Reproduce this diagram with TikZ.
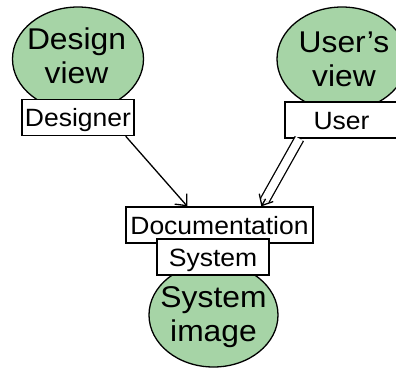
\documentclass[tikz,border=0pt]{standalone}
\usepackage{fontspec}
\setmainfont[FakeStretch=1.06]{Liberation Sans}
\usetikzlibrary{shapes.geometric,arrows.meta,calc}
\definecolor{viewgreen}{RGB}{166,212,166}
\tikzset{
  viewell/.style={ellipse, draw=black, line width=1.3pt, fill=viewgreen, inner sep=0pt},
  viewtext/.style={align=center, inner sep=0pt, font=\fontsize{30}{34}\selectfont},
  rolebox/.style={rectangle, draw=black, line width=1.3pt, fill=white, inner sep=0pt,
    minimum height=36pt, text height=19pt, text depth=1pt, font=\fontsize{25}{28}\selectfont},
  flow/.style={line width=1.3pt, -{Straight Barb[length=9pt,width=16pt,line width=1.3pt]}},
  dflow/.style={line width=1.3pt, double, double distance=8pt, shorten >=7pt},
}
\begin{document}
\begin{tikzpicture}[x=1pt,y=-1pt]
\clip (0,0) rectangle (396,367);
\fill[white] (0,0) rectangle (396,367);
% ellipses
\node[viewell, minimum width=131pt, minimum height=104pt] (dv) at (78,59) {};
\node[viewell, minimum width=130pt, minimum height=104pt] (uv) at (342,59) {};
\node[viewell, minimum width=129pt, minimum height=104pt] (si) at (213.5,315) {};
\node[viewtext] (dvt) at (76.5,55.8) {Design\\view};
\node[viewtext] (uvt) at (344,59) {User's\\view};
\node[viewtext] (sit) at (213.5,317) {System\\image};
% boxes
\node[rolebox, minimum width=112pt] (designer) at (78,117.5) {Designer};
\node[rolebox, minimum width=113pt] (user) at (341.5,120) {User};
\node[rolebox, minimum width=187pt] (doc) at (219.5,225) {Documentation};
\node[rolebox, minimum width=112pt] (sys) at (213,257) {System};
% connectors
\draw[flow] ([xshift=-9pt]designer.south east) -- ([xshift=62pt]doc.north west);
\draw[dflow] ([xshift=15pt]user.south west) -- ([xshift=136pt]doc.north west);
\draw[flow, shorten <=69pt] ([xshift=15pt]user.south west) -- ([xshift=136pt]doc.north west);
\end{tikzpicture}
\end{document}
